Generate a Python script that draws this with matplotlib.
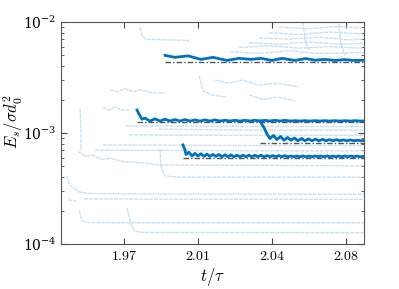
import numpy as np
import matplotlib
matplotlib.use("Agg")
import matplotlib.pyplot as plt

plt.rcParams["mathtext.fontset"] = "cm"
plt.rcParams["font.family"] = "serif"
plt.rcParams["font.serif"] = ["DejaVu Serif"]

dark = "#0072BD"
light = "#b5d5ec"

# highlighted trajectories (t/tau, E_s / sigma d0^2)
t1 = [1.993, 1.998, 2.0045, 2.011, 2.017, 2.024, 2.030, 2.036, 2.041, 2.0465,
      2.0515, 2.058, 2.0635, 2.068, 2.073, 2.078, 2.083, 2.0875, 2.0925]
e1 = [5.0e-3, 4.8e-3, 4.95e-3, 4.6e-3, 4.8e-3, 4.5e-3, 4.7e-3, 4.6e-3, 4.7e-3, 4.5e-3,
      4.7e-3, 4.5e-3, 4.68e-3, 4.52e-3, 4.6e-3, 4.5e-3, 4.58e-3, 4.5e-3, 4.52e-3]
lvl1 = 4.38e-3

t2 = [1.979, 1.980, 1.9815, 1.983, 1.9855, 1.988, 1.9905, 1.993, 1.9955, 1.998,
      2.0005, 2.003, 2.0055, 2.008, 2.0105, 2.013, 2.0155, 2.018, 2.0205, 2.023,
      2.0255, 2.028, 2.0305, 2.033, 2.0355, 2.038, 2.0405, 2.043, 2.0455, 2.048,
      2.0505, 2.053, 2.0555, 2.058, 2.0605, 2.063, 2.0655, 2.068, 2.0705, 2.073,
      2.0755, 2.078, 2.0805, 2.083, 2.0855, 2.088, 2.0905, 2.0925]
e2 = [1.61e-3, 1.48e-3, 1.33e-3, 1.36e-3, 1.28e-3, 1.34e-3, 1.28e-3, 1.33e-3, 1.28e-3, 1.32e-3,
      1.28e-3, 1.32e-3, 1.28e-3, 1.31e-3, 1.28e-3, 1.31e-3, 1.28e-3, 1.31e-3, 1.28e-3, 1.30e-3,
      1.28e-3, 1.30e-3, 1.28e-3, 1.30e-3, 1.28e-3, 1.30e-3, 1.28e-3, 1.30e-3, 1.28e-3, 1.30e-3,
      1.28e-3, 1.30e-3, 1.28e-3, 1.29e-3, 1.28e-3, 1.29e-3, 1.28e-3, 1.29e-3, 1.28e-3, 1.29e-3,
      1.28e-3, 1.29e-3, 1.28e-3, 1.29e-3, 1.28e-3, 1.29e-3, 1.28e-3, 1.28e-3]
lvl2 = 1.25e-3

t3 = [2.0405, 2.0425, 2.044, 2.0455, 2.0473, 2.049, 2.0508, 2.0525, 2.0543, 2.056,
      2.0578, 2.0595, 2.0613, 2.063, 2.0648, 2.0665, 2.0683, 2.070, 2.0718, 2.0735,
      2.0753, 2.077, 2.0788, 2.0805, 2.0823, 2.084, 2.0858, 2.0875, 2.0893, 2.091, 2.0925]
e3 = [1.28e-3, 1.12e-3, 9.8e-4, 8.9e-4, 9.5e-4, 8.7e-4, 9.3e-4, 8.6e-4, 9.1e-4, 8.6e-4,
      9.0e-4, 8.5e-4, 8.9e-4, 8.5e-4, 8.85e-4, 8.5e-4, 8.8e-4, 8.5e-4, 8.75e-4, 8.5e-4,
      8.7e-4, 8.5e-4, 8.7e-4, 8.5e-4, 8.65e-4, 8.5e-4, 8.65e-4, 8.5e-4, 8.6e-4, 8.5e-4, 8.55e-4]
lvl3 = 8.2e-4

t4 = [2.002, 2.003, 2.0035, 2.005, 2.0065, 2.008, 2.0095, 2.011, 2.0125, 2.014,
      2.0155, 2.017, 2.0185, 2.020, 2.0215, 2.023, 2.0245, 2.026, 2.0275, 2.029,
      2.0305, 2.032, 2.0335, 2.035, 2.0365, 2.038, 2.0395, 2.041, 2.0425, 2.044,
      2.0455, 2.047, 2.0485, 2.050, 2.0515, 2.053, 2.0545, 2.056, 2.0575, 2.059,
      2.0605, 2.062, 2.0635, 2.065, 2.0665, 2.068, 2.0695, 2.071, 2.0725, 2.074,
      2.0755, 2.077, 2.0785, 2.080, 2.0815, 2.083, 2.0845, 2.086, 2.0875, 2.089,
      2.0905, 2.0925]
e4 = [7.8e-4, 7.0e-4, 6.4e-4, 6.7e-4, 6.2e-4, 6.55e-4, 6.2e-4, 6.5e-4, 6.15e-4, 6.45e-4,
      6.15e-4, 6.4e-4, 6.15e-4, 6.4e-4, 6.1e-4, 6.35e-4, 6.1e-4, 6.35e-4, 6.1e-4, 6.3e-4,
      6.1e-4, 6.3e-4, 6.1e-4, 6.3e-4, 6.1e-4, 6.3e-4, 6.1e-4, 6.3e-4, 6.1e-4, 6.25e-4,
      6.1e-4, 6.25e-4, 6.1e-4, 6.25e-4, 6.1e-4, 6.25e-4, 6.1e-4, 6.2e-4, 6.1e-4, 6.2e-4,
      6.1e-4, 6.2e-4, 6.1e-4, 6.2e-4, 6.1e-4, 6.2e-4, 6.1e-4, 6.2e-4, 6.1e-4, 6.2e-4,
      6.1e-4, 6.2e-4, 6.1e-4, 6.2e-4, 6.1e-4, 6.2e-4, 6.1e-4, 6.2e-4, 6.1e-4, 6.2e-4,
      6.1e-4, 6.15e-4]
lvl4 = 5.95e-4

# faint background trajectories
bg = [
    ([1.9435, 1.946, 1.950, 1.955, 1.970, 2.0925], [4.1e-4, 3.3e-4, 2.95e-4, 2.85e-4, 2.82e-4, 2.8e-4]),
    ([1.9445, 1.947, 1.9495], [2.5e-4, 2.45e-4, 2.4e-4]),
    ([1.9525, 2.000, 2.0925], [2.55e-4, 2.53e-4, 2.52e-4]),
    ([1.950, 1.9515, 1.955, 1.970, 2.0925], [2.0e-4, 1.62e-4, 1.56e-4, 1.55e-4, 1.55e-4]),
    ([1.974, 1.976, 1.978, 1.982, 2.0925], [2.1e-4, 1.5e-4, 1.3e-4, 1.27e-4, 1.26e-4]),
    ([1.9495, 1.953, 1.957, 1.961, 1.966, 1.972, 1.980, 1.990, 2.0925],
     [6.8e-4, 6.2e-4, 6.3e-4, 5.8e-4, 5.9e-4, 5.5e-4, 5.4e-4, 5.15e-4, 5.05e-4]),
    ([1.9905, 1.991, 1.993, 2.000, 2.0925], [7.2e-4, 5.0e-4, 4.1e-4, 4.0e-4, 4.0e-4]),
    ([1.9505, 1.951, 1.951], [1.65e-3, 1.0e-3, 7.0e-4]),
    ([1.962, 1.965, 1.968, 1.971, 1.975], [1.7e-3, 1.6e-3, 1.72e-3, 1.62e-3, 1.6e-3]),
    ([1.9655, 1.969, 1.973, 1.977, 1.981, 1.986, 1.993], [2.45e-3, 2.35e-3, 2.5e-3, 2.35e-3, 2.45e-3, 2.3e-3, 2.3e-3]),
    ([1.973, 2.020, 2.0925], [1.16e-3, 1.15e-3, 1.14e-3]),
    ([1.975, 2.030, 2.0925], [9.6e-4, 9.5e-4, 9.5e-4]),
    ([1.962, 2.030, 2.0925], [7.8e-4, 7.7e-4, 7.7e-4]),
    ([1.958, 2.040, 2.0925], [7.0e-4, 6.9e-4, 6.9e-4]),
    ([1.990, 2.040, 2.0925], [1.08e-3, 1.06e-3, 1.06e-3]),
    ([1.9805, 1.9815, 1.983, 1.995, 2.005], [9.0e-3, 7.5e-3, 7.0e-3, 6.9e-3, 6.8e-3]),
    ([2.010, 2.012, 2.016, 2.024], [3.3e-3, 2.4e-3, 2.2e-3, 2.1e-3]),
    ([2.018, 2.025, 2.032, 2.040, 2.050, 2.060], [3.0e-3, 2.8e-3, 3.0e-3, 2.7e-3, 2.8e-3, 2.6e-3]),
    ([2.035, 2.042, 2.050, 2.058], [2.2e-3, 2.0e-3, 2.1e-3, 1.95e-3]),
    ([2.0255, 2.040, 2.055, 2.070, 2.0925], [5.4e-3, 5.2e-3, 5.5e-3, 5.2e-3, 5.3e-3]),
    ([2.030, 2.045, 2.060, 2.075, 2.0925], [5.9e-3, 6.1e-3, 5.8e-3, 6.0e-3, 5.8e-3]),
    ([2.035, 2.050, 2.065, 2.080, 2.0925], [6.5e-3, 6.3e-3, 6.6e-3, 6.3e-3, 6.4e-3]),
    ([2.040, 2.055, 2.070, 2.085, 2.0925], [7.2e-3, 7.0e-3, 7.3e-3, 6.9e-3, 7.0e-3]),
    ([2.045, 2.060, 2.075, 2.0925], [8.0e-3, 7.7e-3, 8.1e-3, 7.8e-3]),
    ([2.050, 2.065, 2.080, 2.0925], [9.0e-3, 8.7e-3, 9.1e-3, 8.8e-3]),
    ([2.062, 2.063, 2.065], [9.8e-3, 7.0e-3, 5.6e-3]),
    ([2.080, 2.081, 2.083], [9.6e-3, 6.5e-3, 5.0e-3]),
]

xticks = [1.9725, 2.0095, 2.0465, 2.0835]
xticklabels = ["1.97", "2.01", "2.04", "2.08"]

fig = plt.figure(figsize=(3.99, 2.89), dpi=100)
ax = fig.add_axes([0.153, 0.156, 0.759, 0.768])

for tb, eb in bg:
    ax.plot(tb, eb, color=light, lw=1.0, alpha=0.7, ls=(0, (3, 0.6)))

for tt, ee, lv in [(t1, e1, lvl1), (t2, e2, lvl2), (t3, e3, lvl3), (t4, e4, lvl4)]:
    ax.plot([tt[0], 2.0925], [lv, lv], color="#555555", lw=1.0, ls=(0, (4, 1.5, 1, 1.5)))
    ax.plot(tt, ee, color=dark, lw=2.0)

ax.set_yscale("log")
ax.set_ylim(1e-4, 1e-2)
ax.set_xlim(1.941, 2.0925)
ax.set_xticks(xticks)
ax.set_xticklabels(["$" + s + "$" for s in xticklabels])
ax.tick_params(which="both", direction="in", top=True, right=True, labelsize=10, color="#444444")
ax.tick_params(which="major", length=4)
ax.tick_params(which="minor", length=2.5)
for sp in ax.spines.values():
    sp.set_color("#555555")
    sp.set_linewidth(0.8)
ax.set_xlabel(r"$t/\tau$", fontsize=12, labelpad=2)
ax.set_ylabel(r"$E_s/\sigma d_0^2$", fontsize=12)
ax.yaxis.set_label_coords(-0.12, 0.55)

fig.savefig("out.png", dpi=100)
